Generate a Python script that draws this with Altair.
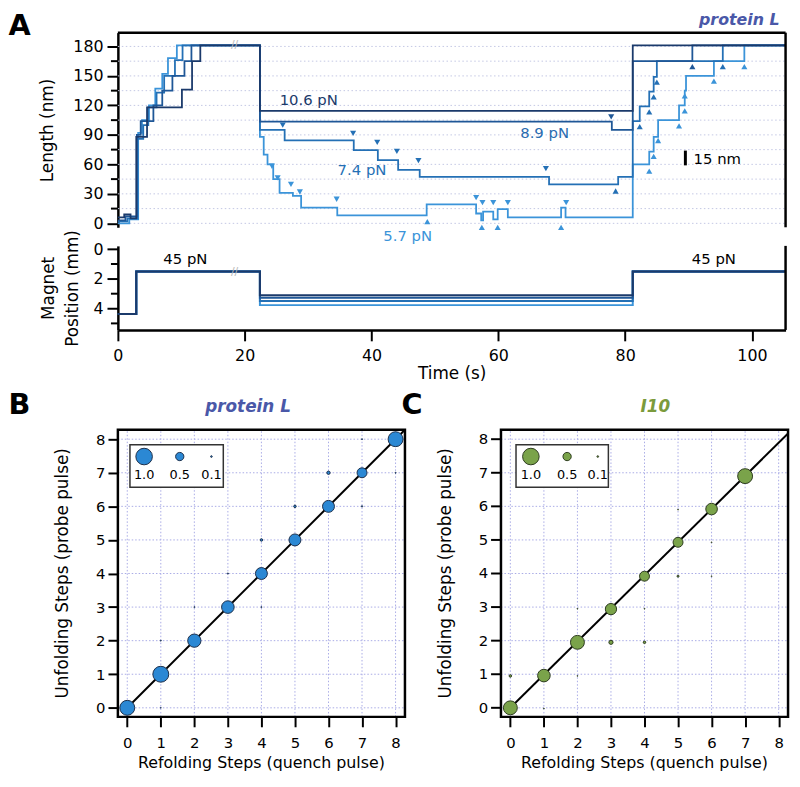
import altair as alt
import pandas as pd

FONT = "DejaVu Sans"

# ---------------- Panel A: length traces (time in s, length in nm) ----------------
TRACE_NAMES = ["10.6 pN", "8.9 pN", "7.4 pN", "5.7 pN"]
TRACE_COLORS = ["#1b3a6b", "#1f5797", "#2470b5", "#3b94d9"]
LABEL_COLORS = ["#1b3a6b", "#2a6cb0", "#2470b5", "#3b94d9"]

T1 = [0, 1.0, 2.0, 2.9, 4.6, 10.1, 11.7, 13.0, 22.4, 81.2, 105.3]
L1 = [6, 9, 5, 88, 118, 136, 165, 181, 114.5, 181, 181]

T2 = [0, 1.2, 3.0, 3.6, 5.6, 7.0, 8.6, 10.5, 11.6, 22.4, 77.9, 81.2, 90.6, 105.3]
L2 = [3, 7, 90, 104, 120, 135, 150, 165, 181, 103.4, 95, 165, 181, 181]

T3 = [0, 1.5, 3.1, 4.0, 4.8, 6.1, 7.3, 9.0, 10.2, 22.4, 26.3, 37.2, 41.0, 44.2, 47.6,
      68.0, 78.9, 81.2, 82.3, 83.8, 84.5, 85.0, 95.4, 105.3]
L3 = [2, 5, 86, 100, 118, 133, 150, 166, 181, 95, 84.4, 74.4, 64.4, 54.3, 47.3,
      39.6, 47.3, 104, 119, 134, 149, 165, 181, 181]

T4 = [0, 1.8, 3.2, 3.8, 4.9, 5.9, 7.0, 7.9, 9.3, 22.4, 23.0, 23.6, 24.5, 25.5, 27.6, 28.9,
      34.6, 48.7, 56.5, 57.3, 57.6, 59.2, 59.9, 61.5, 69.9, 70.6, 81.2, 83.8, 84.5, 85.2,
      88.5, 89.4, 89.6, 94.0, 98.8, 105.3]
L4 = [0, 4, 92, 105, 120, 137, 152, 168, 181, 88, 70, 60, 45, 31, 28, 16,
      8, 19.4, 10, 3, 12, 4, 14.5, 6, 16, 6, 60, 73, 88, 105,
      120, 135, 150, 165, 181, 181]

# refolding (down) and unfolding (up) step markers
DOWN_T = [26.0, 37.1, 40.9, 44.0, 47.4, 67.5, 77.8, 24.3, 25.2, 27.3, 28.7, 34.5,
          56.5, 57.5, 59.2, 61.5, 70.7]
DOWN_L = [100.0, 91.6, 82.3, 73.2, 63.8, 55.7, 108.4, 58.1, 46.3, 39.6, 31.9, 24.5,
          26.2, 21.1, 21.1, 21.1, 21.1]
DOWN_TRACE = ["7.4 pN"] * 6 + ["8.9 pN"] + ["5.7 pN"] * 10

UP_T = [48.8, 57.4, 59.9, 69.9, 78.5, 82.3, 83.8, 84.5, 85.0, 95.4,
        83.8, 84.5, 85.2, 88.5, 89.4, 89.4, 94.0, 98.8, 90.6]
UP_L = [1.7, -4.0, -4.0, -4.0, 32.9, 98.4, 113.5, 128.6, 143.7, 159.4,
        53.1, 68.1, 84.3, 99.1, 114.5, 129.6, 144.7, 159.4, 159.4]
UP_TRACE = ["5.7 pN"] * 4 + ["7.4 pN"] * 6 + ["5.7 pN"] * 8 + ["8.9 pN"]

LABEL_T = [30.1, 67.3, 38.5, 45.7]
LABEL_L = [125.1, 91.6, 53.8, -13.2]

SCALEBAR_T = [89.5]
SCALEBAR_L0 = [59.0]
SCALEBAR_L1 = [74.0]
SCALEBAR_TEXT = ["15 nm"]
SCALEBAR_TEXT_T = [90.8]
SCALEBAR_TEXT_L = [65.8]
BREAK_T = [18.4]
BREAK_L = [181]

L_MAJOR = [0, 30, 60, 90, 120, 150, 180]
L_MINOR = [15, 45, 75, 105, 135, 165]
L_GRID = [0, 15, 30, 45, 60, 75, 90, 105, 120, 135, 150, 165, 180]

# magnet position (mm)
MAG_T = [0, 2.9, 22.4, 81.2, 105.3]
MAG_START = 4.37
MAG_HIGH = 1.51
MAG_LOW = [3.11, 3.27, 3.49, 3.77]
F45_T = [10.65, 94.0]
F45_M = [0.69, 0.69]
F45_TEXT = ["45 pN", "45 pN"]
BREAK_M = [1.51]
M_MAJOR = [0, 2, 4]
M_MINOR = [1, 3, 5]
T_TICKS = [0, 20, 40, 60, 80, 100]

# ---------------- Panels B / C: step-count probabilities ----------------
STEPS = [0, 1, 2, 3, 4, 5, 6, 7, 8]
B_X = [0, 1, 2, 3, 4, 5, 6, 7, 8, 1, 1, 2, 3, 4, 4, 5, 6, 7, 7, 8]
B_Y = [0, 1, 2, 3, 4, 5, 6, 7, 8, 0, 2, 3, 4, 3, 5, 6, 7, 6, 8, 7]
B_P = [0.9, 0.96, 0.8, 0.76, 0.72, 0.72, 0.72, 0.6, 0.9,
       0.05, 0.06, 0.06, 0.07, 0.06, 0.15, 0.15, 0.2, 0.08, 0.06, 0.06]

C_X = [0, 1, 2, 3, 4, 5, 6, 7, 0, 1, 2, 2, 3, 4, 4, 5, 6, 6, 5]
C_Y = [0, 0.96, 1.95, 2.94, 3.92, 4.93, 5.92, 6.9, 0.95, -0.02, 0.95, 2.95, 1.95, 1.95,
       2.95, 3.92, 3.92, 4.93, 5.9]
C_P = [0.84, 0.76, 0.84, 0.68, 0.6, 0.6, 0.7, 0.9, 0.15, 0.05, 0.05, 0.05, 0.25, 0.15,
       0.05, 0.12, 0.05, 0.05, 0.05]

B_DIAG_X = [0, 8.28]
B_DIAG_Y = [0, 8.28]
C_DIAG_X = [0, 8.28]
C_DIAG_Y = [0, 8.17]

LEGEND_P = [1.0, 0.5, 0.1]
LEGEND_LABELS = ["1.0", "0.5", "0.1"]

# ---------------- layout constants ----------------
W_A = 674.5
H_A1 = 196.6
H_A2 = 84.9
SPACING = 18.4
W_BC = 677
H_BC = 372.4

GRID_A = "#c3c7e4"
GRID_BC = "#a9abe6"
B_FILL, B_STROKE = "#2b88d4", "#1c2f4a"
C_FILL, C_STROKE = "#7aa34a", "#2d3b1e"
TITLE_B_COLOR = "#4a58a8"
TITLE_C_COLOR = "#7b9b3c"

one = pd.DataFrame({"k": [0]})


def text_at(txt, x, y, size, weight="normal", style="normal", color="black",
            align="center", baseline="middle", angle=0):
    return alt.Chart(one).mark_text(
        text=txt, font=FONT, fontSize=size, fontWeight=weight, fontStyle=style,
        color=color, align=align, baseline=baseline, angle=angle
    ).encode(x=alt.value(x), y=alt.value(y))


# ================= A1: length =================
XT = alt.Scale(domain=[0, 105.3], nice=False, zero=False)
YL = alt.Scale(domain=[-4, 194], nice=False, zero=False)

yaxis_len = alt.Axis(values=L_MAJOR, tickSize=11, tickWidth=2, domainWidth=2.5,
                     labelFontSize=16, labelPadding=4, grid=False,
                     title="Length (nm)", titleFontSize=17, titleX=-71, titleY=H_A1 / 2,
                     titleAngle=270, titleAlign="center", titleBaseline="middle")


def XA(field):
    return alt.X(field, scale=XT, axis=None)


def YA(field):
    return alt.Y(field, scale=YL, axis=yaxis_len)


trace_color = alt.Color("trace:N", scale=alt.Scale(domain=TRACE_NAMES, range=TRACE_COLORS), legend=None)

traces_df = pd.concat(
    [pd.DataFrame({"t": t, "L": l, "trace": n})
     for t, l, n in reversed(list(zip([T1, T2, T3, T4], [L1, L2, L3, L4], TRACE_NAMES)))],
    ignore_index=True)

grid_a = alt.Chart(pd.DataFrame({"v": L_GRID})).mark_rule(
    color=GRID_A, strokeWidth=1, strokeDash=[1.5, 2.5]
).encode(y=YA("v:Q"), x=alt.value(0), x2=alt.value(W_A))

minor_a = alt.Chart(pd.DataFrame({"v": L_MINOR})).mark_rule(color="black", strokeWidth=2).encode(
    y=YA("v:Q"), x=alt.value(-7), x2=alt.value(0))

lines_a = alt.Chart(traces_df).mark_line(interpolate="step-after", strokeWidth=1.8).encode(
    x=XA("t:Q"), y=YA("L:Q"), color=trace_color)

down_a = alt.Chart(pd.DataFrame({"t": DOWN_T, "L": DOWN_L, "trace": DOWN_TRACE})).mark_point(
    shape="triangle-down", filled=True, size=38, opacity=1
).encode(x=XA("t:Q"), y=YA("L:Q"), color=trace_color)

up_a = alt.Chart(pd.DataFrame({"t": UP_T, "L": UP_L, "trace": UP_TRACE})).mark_point(
    shape="triangle-up", filled=True, size=38, opacity=1
).encode(x=XA("t:Q"), y=YA("L:Q"), color=trace_color)

labels_a = alt.Chart(pd.DataFrame({"t": LABEL_T, "L": LABEL_L, "trace": TRACE_NAMES})).mark_text(
    font=FONT, fontSize=15, align="center", baseline="middle"
).encode(x=XA("t:Q"), y=YA("L:Q"), text="trace:N",
         color=alt.Color("trace:N", scale=alt.Scale(domain=TRACE_NAMES, range=LABEL_COLORS), legend=None))

bar_a = alt.Chart(pd.DataFrame({"t": SCALEBAR_T, "L0": SCALEBAR_L0, "L1": SCALEBAR_L1})).mark_rule(
    color="black", strokeWidth=3
).encode(x=XA("t:Q"), y=YA("L0:Q"), y2="L1:Q")

bar_txt_a = alt.Chart(pd.DataFrame({"t": SCALEBAR_TEXT_T, "L": SCALEBAR_TEXT_L, "s": SCALEBAR_TEXT})).mark_text(
    font=FONT, fontSize=15, align="left", baseline="middle", color="black"
).encode(x=XA("t:Q"), y=YA("L:Q"), text="s:N")

break_a = alt.Chart(pd.DataFrame({"t": BREAK_T, "L": BREAK_L})).mark_text(
    text="//", font=FONT, fontSize=11, color="#b8b8b8", baseline="middle"
).encode(x=XA("t:Q"), y=YA("L:Q"))

frame_top_a = alt.Chart(one).mark_rule(color="black", strokeWidth=2.5).encode(
    x=alt.value(0), x2=alt.value(W_A), y=alt.value(0))
frame_right_a = alt.Chart(one).mark_rule(color="black", strokeWidth=2.5).encode(
    x=alt.value(W_A), y=alt.value(0), y2=alt.value(H_A1))

letter_a = text_at("A", -110.5, -20.3, 29, weight="bold", align="left", baseline="top")
title_a = text_at("protein L", 668.5, -20.3, 16, weight="bold", style="italic",
                  color=TITLE_B_COLOR, align="right", baseline="top")

a1 = alt.layer(grid_a, minor_a, lines_a, down_a, up_a, labels_a, bar_a, bar_txt_a, break_a,
               frame_top_a, frame_right_a, letter_a, title_a
               ).resolve_scale(color="independent").properties(width=W_A, height=H_A1)

# ================= A2: magnet position =================
YM = alt.Scale(domain=[-0.22, 5.44], reverse=True, nice=False, zero=False)

yaxis_mag = alt.Axis(values=M_MAJOR, tickSize=11, tickWidth=2, domainWidth=2.5,
                     labelFontSize=16, labelPadding=4, grid=False,
                     title=["Magnet", "Position (mm)"], titleFontSize=17, titleLineHeight=25,
                     titleX=-70.5, titleY=H_A2 / 2, titleAngle=270, titleAlign="center",
                     titleBaseline="middle")
xaxis_time = alt.Axis(values=T_TICKS, tickSize=11, tickWidth=2, domainWidth=2.5,
                      labelFontSize=16, labelPadding=7, labelFlush=False, grid=False,
                      title="Time (s)", titleFontSize=17, titleX=W_A / 2, titleY=44,
                      titleAlign="center", titleBaseline="middle")


def XM(field):
    return alt.X(field, scale=XT, axis=xaxis_time)


def YMM(field):
    return alt.Y(field, scale=YM, axis=yaxis_mag)


mag_df = pd.concat(
    [pd.DataFrame({"t": MAG_T, "m": [MAG_START, MAG_HIGH, low, MAG_HIGH, MAG_HIGH], "trace": n})
     for low, n in reversed(list(zip(MAG_LOW, TRACE_NAMES)))],
    ignore_index=True)

lines_m = alt.Chart(mag_df).mark_line(interpolate="step-after", strokeWidth=2).encode(
    x=XM("t:Q"), y=YMM("m:Q"), color=trace_color)

minor_m = alt.Chart(pd.DataFrame({"v": M_MINOR})).mark_rule(color="black", strokeWidth=2).encode(
    y=YMM("v:Q"), x=alt.value(-7), x2=alt.value(0))

f45_m = alt.Chart(pd.DataFrame({"t": F45_T, "m": F45_M, "s": F45_TEXT})).mark_text(
    font=FONT, fontSize=15, align="center", baseline="middle", color="black"
).encode(x=XM("t:Q"), y=YMM("m:Q"), text="s:N")

break_m = alt.Chart(pd.DataFrame({"t": BREAK_T, "m": BREAK_M})).mark_text(
    text="//", font=FONT, fontSize=11, color="#b8b8b8", baseline="middle"
).encode(x=XM("t:Q"), y=YMM("m:Q"))

frame_right_m = alt.Chart(one).mark_rule(color="black", strokeWidth=2.5).encode(
    x=alt.value(W_A), y=alt.value(0), y2=alt.value(H_A2))

a2 = alt.layer(lines_m, minor_m, f45_m, break_m, frame_right_m).properties(width=W_A, height=H_A2)

# ================= B and C =================
FX = [-0.28, 8.28]
FY = [-0.27, 8.28]
XB = alt.Scale(domain=[-0.28, 19.703], nice=False, zero=False)
XC = alt.Scale(domain=[-11.703, 8.28], nice=False, zero=False)
YS = alt.Scale(domain=[-0.27, 10.709], nice=False, zero=False)
SIZE = alt.Scale(type="pow", exponent=2, domain=[0, 1], range=[0, 280])

steps_df = pd.DataFrame({"v": STEPS})

yaxis_steps = alt.Axis(values=STEPS, domain=False, grid=False, tickSize=10, tickWidth=2,
                       labelFontSize=15, labelPadding=3, title=None)


def xaxis_steps():
    return alt.Axis(orient="bottom", values=STEPS, domain=False, grid=False, tickSize=10,
                    tickWidth=2, labelFontSize=15, labelPadding=9, labelFlush=False, title=None)


def YB(field=None, datum=None):
    if datum is not None:
        return alt.Y(datum=datum, scale=YS, axis=yaxis_steps)
    return alt.Y(field, scale=YS, axis=yaxis_steps)


def panel(xs, px, py, pp, fill, stroke, dx, dy, left, legend_x, legend_box, letter, letter_x,
          title, title_x, title_color):
    gv = alt.Chart(steps_df).mark_rule(color=GRID_BC, strokeWidth=1, strokeDash=[1.5, 2]).encode(
        x=alt.X("v:Q", scale=xs, axis=None),
        y=YB(datum=FY[0]), y2=alt.Y2(datum=FY[1]))
    gh = alt.Chart(steps_df).mark_rule(color=GRID_BC, strokeWidth=1, strokeDash=[1.5, 2]).encode(
        y=YB("v:Q"),
        x=alt.X(datum=FX[0], scale=xs, axis=None), x2=alt.X2(datum=FX[1]))
    diag = alt.Chart(pd.DataFrame({"x": dx, "y": dy})).mark_line(color="black", strokeWidth=2).encode(
        x=alt.X("x:Q", scale=xs, axis=None), y=YB("y:Q"))
    pts = alt.Chart(pd.DataFrame({"x": px, "y": py, "p": pp})).mark_circle(
        fill=fill, stroke=stroke, strokeWidth=1, opacity=1
    ).encode(
        x=alt.X("x:Q", scale=xs, axis=xaxis_steps()),
        y=YB("y:Q"),
        size=alt.Size("p:Q", scale=SIZE, legend=None))
    frame = alt.Chart(one).mark_rect(fillOpacity=0, stroke="black", strokeWidth=2.5).encode(
        x=alt.X(datum=FX[0], scale=xs, axis=None), x2=alt.X2(datum=FX[1]),
        y=YB(datum=FY[0]), y2=alt.Y2(datum=FY[1]))
    box = alt.Chart(one).mark_rect(fill="white", stroke="#333333", strokeWidth=1.5).encode(
        x=alt.value(legend_box[0]), x2=alt.value(legend_box[1]),
        y=alt.value(97.4), y2=alt.value(140.4))
    leg_df = pd.DataFrame({"p": LEGEND_P, "lab": LEGEND_LABELS, "px": legend_x})
    leg_dots = alt.Chart(leg_df).mark_circle(fill=fill, stroke=stroke, strokeWidth=1, opacity=1).encode(
        x=alt.X("px:Q", scale=None, axis=None), y=alt.value(109.4),
        size=alt.Size("p:Q", scale=SIZE, legend=None))
    leg_txt = alt.Chart(leg_df).mark_text(font=FONT, fontSize=13, color="black", baseline="middle").encode(
        x=alt.X("px:Q", scale=None, axis=None), y=alt.value(128.4), text="lab:N")
    ytitle = text_at("Unfolding Steps (probe pulse)", left - 55, 227.4, 17, angle=270)
    xtitle = text_at("Refolding Steps (quench pulse)", left + 145, 419, 16)
    let = text_at(letter, letter_x, 57.4, 29, weight="bold", align="left")
    ttl = text_at(title, title_x, 59.4, 17, weight="bold", style="italic", color=title_color)
    return [gv, gh, diag, pts, frame, box, leg_dots, leg_txt, ytitle, xtitle, let, ttl]


b_layers = panel(XB, B_X, B_Y, B_P, B_FILL, B_STROKE, B_DIAG_X, B_DIAG_Y, 0,
                 [26.5, 62.5, 94.5], [12.2, 106.5], "B", -110.5, "protein L", 131.5, TITLE_B_COLOR)
c_layers = panel(XC, C_X, C_Y, C_P, C_FILL, C_STROKE, C_DIAG_X, C_DIAG_Y, 387,
                 [417.2, 453.8, 484.8], [402.2, 495.5], "C", 286.5, "I10", 543, TITLE_C_COLOR)

c_yticks = alt.Chart(steps_df).mark_rule(color="black", strokeWidth=2, x2Offset=-10).encode(
    x=alt.X(datum=FX[0], scale=XC, axis=None), x2=alt.X2(datum=FX[0]),
    y=YB("v:Q"))
c_ylabels = alt.Chart(steps_df).mark_text(font=FONT, fontSize=15, color="black", align="right",
                                          baseline="middle", dx=-13).encode(
    x=alt.X(datum=FX[0], scale=XC, axis=None), y=YB("v:Q"),
    text=alt.Text("v:Q", format="d"))

bc = alt.layer(*b_layers, *c_layers, c_yticks, c_ylabels).resolve_scale(
    x="independent").properties(width=W_BC, height=H_BC)

chart = alt.vconcat(a1, a2, bc, spacing=SPACING, bounds="flush").properties(
    padding=0
).configure(font=FONT).configure_view(stroke=None).configure_axis(
    labelFont=FONT, titleFont=FONT, labelColor="black", titleColor="black",
    tickColor="black", domainColor="black", titleFontWeight="normal"
)

chart.save("out.html", embed_options={"renderer": "svg", "actions": False})
